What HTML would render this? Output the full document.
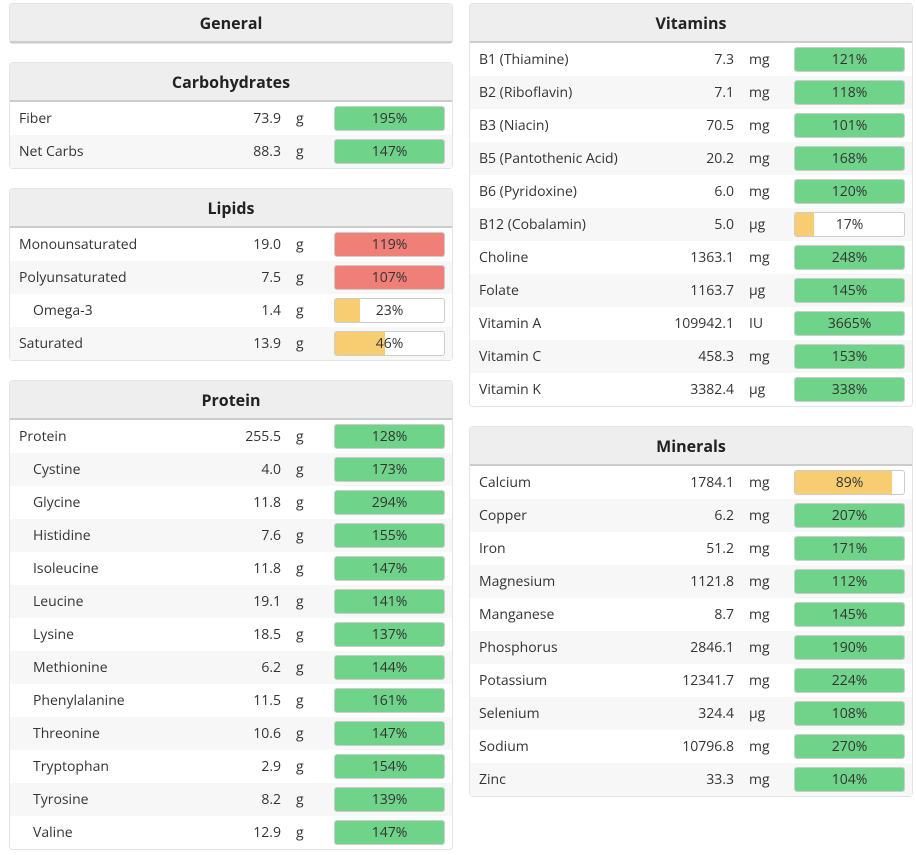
<!DOCTYPE html>
<html><head><meta charset="utf-8">
<style>
body{margin:0;width:916px;height:855px;background:#fff;font-family:"Open Sans","Liberation Sans",sans-serif;color:#333;position:relative;overflow:hidden}
.panel{position:absolute;border:1px solid #e3e3e3;border-radius:4px;background:#fff;box-sizing:border-box}
.hdr{height:37px;background:#eee;border-bottom:2px solid #ccc;text-align:center;font-weight:bold;font-size:16px;line-height:39px;color:#222;border-radius:4px 4px 0 0}
.row{position:relative;height:33px;font-size:14px;line-height:33px}
.row:nth-child(even){background:#f7f7f7}
.nm{position:absolute;left:9px}
.nm.ind{left:23px}
.val{position:absolute;right:171px;text-align:right}
.unit{position:absolute;left:286px}
.bar{position:absolute;left:324px;top:4px;width:111px;height:25px;border:1px solid #ccc;border-radius:3px;box-sizing:border-box;background:#fff;overflow:hidden}
.fill{position:absolute;left:0;top:0;bottom:0}
.pt{position:absolute;left:0;right:0;top:0;line-height:23px;text-align:center;font-size:14px;color:#333}
</style></head><body>
<script>
const carbNames=["Fiber","Net Carbs"], carbVals=["73.9","88.3"], carbUnits=["g","g"], carbPct=[195,147], carbInd=[0,0], carbLim=[0,0];
const lipNames=["Monounsaturated","Polyunsaturated","Omega-3","Saturated"], lipVals=["19.0","7.5","1.4","13.9"], lipUnits=["g","g","g","g"], lipPct=[119,107,23,46], lipInd=[0,0,1,0], lipLim=[1,1,0,0];
const proNames=["Protein","Cystine","Glycine","Histidine","Isoleucine","Leucine","Lysine","Methionine","Phenylalanine","Threonine","Tryptophan","Tyrosine","Valine"];
const proVals=["255.5","4.0","11.8","7.6","11.8","19.1","18.5","6.2","11.5","10.6","2.9","8.2","12.9"];
const proUnits=Array(13).fill("g");
const proPct=[128,173,294,155,147,141,137,144,161,147,154,139,147];
const proInd=[0,1,1,1,1,1,1,1,1,1,1,1,1], proLim=Array(13).fill(0);
const vitNames=["B1 (Thiamine)","B2 (Riboflavin)","B3 (Niacin)","B5 (Pantothenic Acid)","B6 (Pyridoxine)","B12 (Cobalamin)","Choline","Folate","Vitamin A","Vitamin C","Vitamin K"];
const vitVals=["7.3","7.1","70.5","20.2","6.0","5.0","1363.1","1163.7","109942.1","458.3","3382.4"];
const vitUnits=["mg","mg","mg","mg","mg","µg","mg","µg","IU","mg","µg"];
const vitPct=[121,118,101,168,120,17,248,145,3665,153,338];
const vitInd=Array(11).fill(0), vitLim=Array(11).fill(0);
const minNames=["Calcium","Copper","Iron","Magnesium","Manganese","Phosphorus","Potassium","Selenium","Sodium","Zinc"];
const minVals=["1784.1","6.2","51.2","1121.8","8.7","2846.1","12341.7","324.4","10796.8","33.3"];
const minUnits=["mg","mg","mg","mg","mg","mg","mg","µg","mg","mg"];
const minPct=[89,207,171,112,145,190,224,108,270,104];
const minInd=Array(10).fill(0), minLim=Array(10).fill(0);

function panel(name,title,left,top,width,names,vals,units,pct,ind,lim,right){
  const p=document.createElement('div');p.className='panel';
  
  
  p.style.left=left+'px';p.style.top=top+'px';p.style.width=width+'px';
  const h=document.createElement('div');h.className='hdr';h.textContent=title;
  
  
  p.appendChild(h);
  const body=document.createElement('div');
  
  
  p.appendChild(body);
  for(let i=0;i<names.length;i++){
    const r=document.createElement('div');r.className='row';
    
    
    const n=document.createElement('span');n.className='nm'+(ind[i]?' ind':'');n.textContent=names[i];
    
    
    const v=document.createElement('span');v.className='val';v.textContent=vals[i];
    
    
    const u=document.createElement('span');u.className='unit';u.textContent=units[i];
    
    
    if(right){v.style.right='178px';u.style.left='279px';}
    const b=document.createElement('div');b.className='bar';
    
    
    const f=document.createElement('div');f.className='fill';
    
    
    f.style.width=Math.min(pct[i],100)+'%';
    f.style.background=lim[i]?'#ef7f77':(pct[i]>=100?'#6fd38a':'#f8cd72');
    const t=document.createElement('div');t.className='pt';t.textContent=pct[i]+'%';
    
    
    b.appendChild(f);b.appendChild(t);
    r.appendChild(n);r.appendChild(v);r.appendChild(u);r.appendChild(b);
    body.appendChild(r);
  }
  document.body.appendChild(p);
}
panel('general','General',9,3,444,[],[],[],[],[],[],false);
panel('carbohydrates','Carbohydrates',9,62,444,carbNames,carbVals,carbUnits,carbPct,carbInd,carbLim,false);
panel('lipids','Lipids',9,188,444,lipNames,lipVals,lipUnits,lipPct,lipInd,lipLim,false);
panel('protein','Protein',9,380,444,proNames,proVals,proUnits,proPct,proInd,proLim,false);
panel('vitamins','Vitamins',469,3,444,vitNames,vitVals,vitUnits,vitPct,vitInd,vitLim,true);
panel('minerals','Minerals',469,426,444,minNames,minVals,minUnits,minPct,minInd,minLim,true);
</script>
</body></html>
